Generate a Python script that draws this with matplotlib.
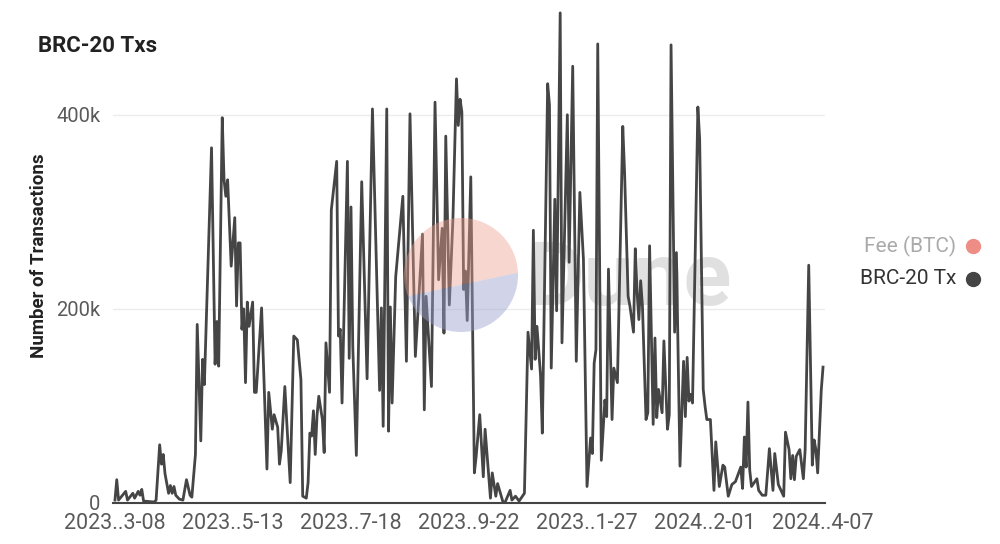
import numpy as np
import pandas as pd
import matplotlib.pyplot as plt
from matplotlib.patches import Circle, Polygon

plt.rcParams['font.family'] = ['Roboto', 'DejaVu Sans']

# days since 2023-03-08 and BRC-20 transactions (thousands)
days = [0, 1, 2, 6, 7, 10, 11, 13, 14, 15, 16, 22, 23, 25, 26, 27, 28, 30, 31, 32,
        33, 34, 36, 38, 40, 42, 43, 45, 46, 48, 49, 50, 54, 56, 57, 58, 60, 61, 62, 63,
        65, 67, 68, 69, 70, 71, 72, 73, 74, 75, 77, 78, 79, 82, 85, 86, 88, 89, 91, 92,
        93, 95, 96, 98, 100, 102, 104, 105, 107, 108, 109, 110, 111, 112, 113, 114, 116, 117, 118, 120,
        121, 124, 125, 126, 127, 130, 131, 132, 133, 135, 138, 141, 144, 148, 149, 150, 152, 153, 154, 155,
        157, 161, 163, 165, 168, 172, 173, 174, 177, 179, 181, 183, 184, 185, 187, 189, 191, 192, 193, 194,
        195, 196, 197, 199, 201, 202, 204, 206, 207, 210, 211, 213, 214, 217, 218, 221, 222, 224, 226, 229,
        231, 233, 234, 235, 236, 238, 239, 242, 243, 244, 246, 247, 249, 250, 253, 254, 256, 258, 260, 262,
        264, 266, 267, 268, 269, 270, 272, 274, 275, 276, 278, 279, 281, 284, 285, 287, 288, 290, 291, 292,
        293, 294, 295, 297, 298, 299, 301, 302, 303, 304, 306, 307, 309, 310, 311, 313, 314, 316, 318, 319,
        320, 321, 322, 323, 326, 327, 329, 330, 331, 333, 335, 336, 338, 340, 341, 343, 345, 347, 348, 350,
        351, 352, 353, 354, 355, 356, 359, 360, 362, 364, 366, 368, 369, 371, 374, 375, 377, 378, 379, 380,
        381, 383, 385, 386, 388, 390, 391, 392, 393, 395, 396]
txs = [3, 24, 3, 12, 3, 10, 5, 12, 8, 14, 2, 1, 3, 60, 40, 50, 30, 10, 18, 10,
       17, 8, 4, 3, 24, 8, 6, 50, 184, 64, 148, 122, 366, 143, 187, 141, 397, 333, 316, 333,
       244, 294, 203, 268, 268, 179, 200, 124, 207, 182, 207, 114, 114, 201, 35, 114, 76, 91, 78, 40,
       54, 120, 86, 21, 172, 168, 127, 7, 5, 21, 72, 69, 95, 50, 90, 110, 86, 52, 165, 114,
       302, 352, 172, 179, 103, 352, 149, 305, 161, 49, 331, 128, 406, 116, 201, 79, 406, 74, 202, 103,
       233, 316, 146, 401, 151, 277, 96, 213, 120, 413, 230, 283, 175, 378, 204, 292, 437, 389, 416, 403,
       220, 239, 188, 336, 31, 48, 91, 27, 76, 5, 31, 7, 20, 1, 0, 13, 3, 7, 2, 10,
       176, 138, 281, 148, 182, 132, 72, 432, 410, 139, 313, 198, 505, 165, 400, 248, 450, 146, 320, 251,
       17, 67, 51, 144, 158, 473, 44, 106, 89, 241, 86, 139, 124, 388, 341, 213, 203, 176, 262, 217,
       189, 229, 203, 86, 93, 265, 81, 170, 88, 117, 93, 167, 76, 91, 472, 176, 258, 38, 146, 89,
       150, 105, 112, 103, 408, 375, 117, 100, 86, 86, 13, 63, 17, 39, 37, 7, 19, 22, 27, 37,
       15, 68, 37, 104, 34, 17, 25, 13, 8, 8, 56, 13, 51, 19, 7, 73, 55, 25, 49, 24,
       48, 55, 25, 55, 245, 39, 65, 55, 31, 116, 140]

tick_dates = ['2023-03-08', '2023-05-13', '2023-07-18', '2023-09-22',
              '2023-11-27', '2024-02-01', '2024-04-07']
tick_labels = ['2023..3-08', '2023..5-13', '2023..7-18', '2023..9-22',
               '2023..1-27', '2024..2-01', '2024..4-07']

start = pd.Timestamp('2023-03-08')
dates = start + pd.to_timedelta(days, unit='D')
values = np.array(txs) * 1000

fig = plt.figure(figsize=(10, 5.44), dpi=100)

# watermark text, under the line
under = fig.add_axes([0, 0, 1, 1], zorder=0)
under.set_xlim(0, 1000)
under.set_ylim(544, 0)
under.axis('off')
under.text(526, 305, 'Dune', fontsize=64, color='#e0e0e0', fontweight='bold',
           ha='left', va='baseline')

ax = fig.add_axes([0.113, 41 / 544, 0.712, 495 / 544], zorder=1)
ax.patch.set_alpha(0)
ax.plot(dates, values, color='#454545', lw=2.0, zorder=3)

ax.set_ylim(0, 510000)
ax.set_xlim(start - pd.Timedelta(days=1.1), start + pd.Timedelta(days=397.1))
ax.set_yticks([0, 200000, 400000])
ax.set_yticklabels(['0', '200k', '400k'])
ax.set_xticks(pd.to_datetime(tick_dates))
ax.set_xticklabels(tick_labels)
ax.tick_params(axis='both', length=0, labelcolor='#5a5a5a')
ax.tick_params(axis='y', pad=9, labelsize=14.5)
ax.tick_params(axis='x', pad=7, labelsize=15.5)
ax.grid(axis='y', color='#ececec', lw=1)
ax.set_axisbelow(True)
for s in ['top', 'right', 'left']:
    ax.spines[s].set_visible(False)
ax.spines['bottom'].set_color('#444444')
ax.spines['bottom'].set_linewidth(1.5)

ax.set_ylabel('Number of Transactions', fontsize=13.5, fontweight='bold',
              color='#222222', labelpad=6)
fig.text(0.038, 0.905, 'BRC-20 Txs', fontsize=16, fontweight='bold', color='#222222')

# logo circle on top of the line, translucent
over = fig.add_axes([0, 0, 1, 1], zorder=2)
over.set_xlim(0, 1000)
over.set_ylim(544, 0)
over.axis('off')
circ = Circle((461, 275), 57, facecolor='none', edgecolor='none')
over.add_patch(circ)
top = Polygon([(390, 200), (540, 200), (540, 268), (390, 300)], closed=True,
              facecolor='#ed9f90', alpha=0.42, edgecolor='none')
bottom = Polygon([(390, 300), (540, 268), (540, 350), (390, 350)], closed=True,
                 facecolor='#9a9fcc', alpha=0.45, edgecolor='none')
for p in (top, bottom):
    over.add_patch(p)
    p.set_clip_path(circ)

# legend
fig.text(0.956, 1 - 246 / 544, 'Fee (BTC)', fontsize=15, color='#aaaaaa',
         ha='right', va='center')
fig.text(0.956, 1 - 279 / 544, 'BRC-20 Tx', fontsize=15, color='#333333',
         ha='right', va='center')
over.plot([973], [246], 'o', ms=10, color='#ee8d86')
over.plot([973], [279], 'o', ms=10, color='#444444')

fig.savefig('out.png', dpi=100)
